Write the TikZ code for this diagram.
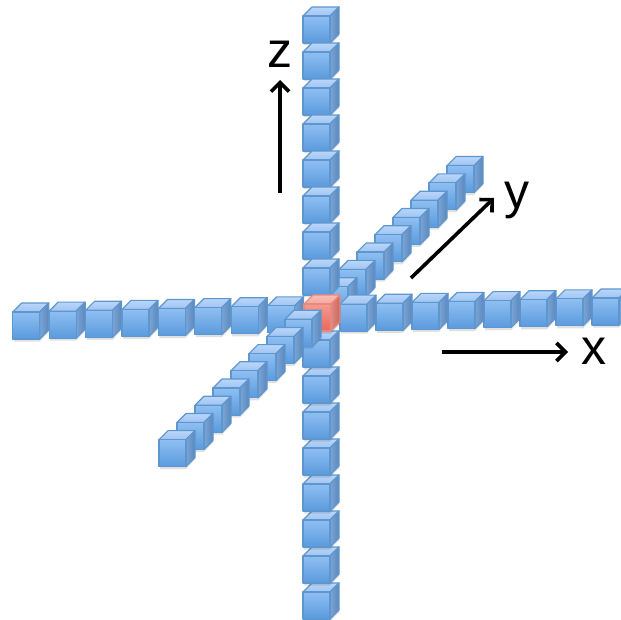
\documentclass[tikz,border=0pt]{standalone}
\usepackage{fontspec}
\setmainfont{Liberation Sans}
\usepackage{xcolor}
\usepackage{tikz}
\usetikzlibrary{arrows.meta}

\definecolor{blueTopA}{HTML}{BAD6FA}
\definecolor{blueTopB}{HTML}{9FC4F2}
\definecolor{blueFrontA}{HTML}{8FBFF2}
\definecolor{blueFrontB}{HTML}{5A9ADD}
\definecolor{blueSideA}{HTML}{7BA4D6}
\definecolor{blueSideB}{HTML}{5A88BC}
\definecolor{blueEdge}{HTML}{5E96CE}
\definecolor{redTopA}{HTML}{F9BDB4}
\definecolor{redTopB}{HTML}{F5A79C}
\definecolor{redFrontA}{HTML}{F59A90}
\definecolor{redFrontB}{HTML}{E9675C}
\definecolor{redSideA}{HTML}{DE8A82}
\definecolor{redSideB}{HTML}{C9675F}
\definecolor{redEdge}{HTML}{E58A80}

\tikzset{
  cubeline/.style={draw=#1Edge, line width=1.2pt, line join=round},
  cubeshadow/.style={fill=black, opacity=0.12},
  axisarrow/.style={-{Straight Barb[length=9pt,width=18pt,line width=3.6pt]}, line width=3.6pt, black},
  axislabel/.style={inner sep=0pt, font=\fontsize{50}{60}\selectfont}
}

% one cube, #1 and #2 are the top left corner of the front face
\newcommand{\drawcube}[3]{
  \begin{scope}[shift={({#1},{#2})}]
    \fill[cubeshadow] (1,2) -- (27,2) -- (36,-7) -- (36,20) -- (27,29.5) -- (1,29.5) -- cycle;
    \shade[top color=#3TopA, bottom color=#3TopB, cubeline=#3] (0,0) -- (9,-9) -- (36,-9) -- (27,0) -- cycle;
    \shade[left color=#3SideA, right color=#3SideB, cubeline=#3] (27,0) -- (36,-9) -- (36,18) -- (27,27) -- cycle;
    \shade[top color=#3FrontA, bottom color=#3FrontB, cubeline=#3] (0,0) rectangle (27,27);
  \end{scope}
}

\begin{document}
\begin{tikzpicture}[x=1pt, y=-1pt]
  \useasboundingbox (0,0) rectangle (621,620);
  \clip (0,0) rectangle (621,620);

  % y axis, far part
  \foreach \i in {8,7,...,1} {
    \drawcube{303+18*\i}{304-17.3*\i}{blue}
  }
  % z axis, upper part
  \foreach \i in {1,...,8} {
    \drawcube{303}{16+36*(\i-1)}{blue}
  }
  % x axis
  \foreach \i in {8,7,...,1} {
    \drawcube{304-36.4*\i}{305+0.875*\i}{blue}
  }
  \foreach \i in {8,7,...,1} {
    \drawcube{304+36*\i}{305-0.875*\i}{blue}
  }
  % z axis, lower part
  \foreach \i in {8,7,...,1} {
    \drawcube{303}{304+36*\i}{blue}
  }
  % origin
  \drawcube{304}{304}{red}
  % y axis, near part
  \foreach \i in {1,...,8} {
    \drawcube{303-18*\i}{302+17.2*\i}{blue}
  }

  \coordinate (zstart) at (280,193);
  \coordinate (zend) at (280,80);
  \coordinate (ystart) at (411,278);
  \coordinate (yend) at (494,198);
  \coordinate (xstart) at (442,352);
  \coordinate (xend) at (568,352);
  \node[axislabel] (zlabel) at (280,54) {z};
  \node[axislabel] (ylabel) at (517,200) {y};
  \node[axislabel] (xlabel) at (594,351) {x};
  \draw[axisarrow] (zstart) -- (zend);
  \draw[axisarrow] (ystart) -- (yend);
  \draw[axisarrow] (xstart) -- (xend);
\end{tikzpicture}
\end{document}
